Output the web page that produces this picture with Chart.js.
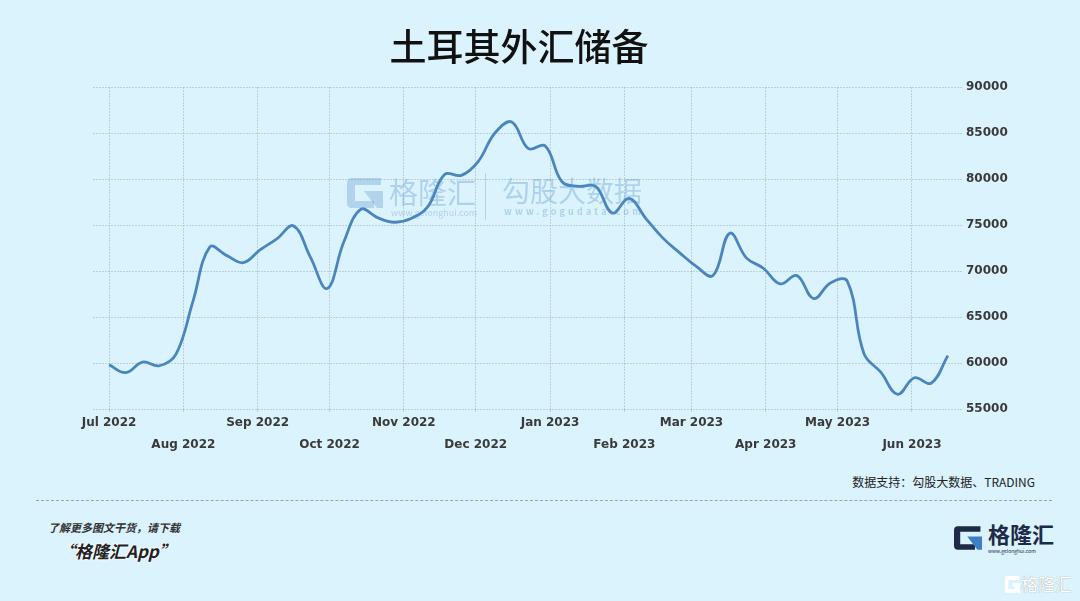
<!DOCTYPE html>
<html>
<head>
<meta charset="utf-8">
<script src="https://cdn.jsdelivr.net/npm/chart.js@4"></script>
<style>
  html, body { margin: 0; padding: 0; }
  body { width: 1080px; height: 601px; background: #dbf3fd; position: relative; overflow: hidden;
         font-family: "Noto Sans CJK SC", "DejaVu Sans", sans-serif; }
  #wrap { position: absolute; left: 0; top: 0; width: 1080px; height: 470px; }
  .abs { position: absolute; white-space: nowrap; }
  #title { left: 0; width: 1038px; top: 20px; text-align: center; font-size: 37px; font-weight: 500; color: #111; line-height: 50px; }
  .wm { color: rgba(80, 140, 200, 0.32); }
  #source { right: 45px; top: 473px; font-size: 12px; color: #222; }
  #dots { left: 36px; top: 500px; width: 1016px; border-top: 1px dashed #9aa4aa; }
  #more { left: 48px; top: 519px; font-size: 11px; font-style: italic; font-weight: bold; color: #333; }
  #app { left: 58px; top: 538px; font-size: 17px; font-style: italic; font-weight: bold; color: #222;
         text-shadow: 0 0 2px #fff, 0 0 2px #fff, 0 0 3px #fff; }
</style>
</head>
<body>
<div id="wrap"><canvas id="chart"></canvas></div>

<div id="title" class="abs">土耳其外汇储备</div>

<!-- watermark -->
<svg class="abs" style="left:347px;top:178px" width="36" height="30" viewBox="0 0 36 30">
  <path d="M34,0 H5 Q0,0 0,5 V25 Q0,30 5,30 H27 V23 H8 V7 H34 Z" fill="rgba(80,140,200,0.3)"/>
  <path d="M17,13 H36 V30 H30 Z" fill="rgba(80,140,200,0.3)"/>
</svg>
<div class="abs wm" style="left:389px;top:170px;font-size:29px;">格隆汇</div>
<div class="abs wm" style="left:391px;top:206px;font-size:9px;">www.gelonghui.com</div>
<div class="abs" style="left:485px;top:173px;width:1px;height:47px;background:rgba(80,140,200,0.3);"></div>
<div class="abs wm" style="left:502px;top:170px;font-size:28px;">勾股大数据</div>
<div class="abs wm" style="left:504px;top:205px;font-size:9px;font-weight:bold;letter-spacing:3.2px;">www.gogudata.com</div>

<div id="source" class="abs">数据支持：勾股大数据、TRADING</div>
<div id="dots" class="abs"></div>
<div id="more" class="abs">了解更多图文干货，请下载</div>
<div id="app" class="abs">“格隆汇App”</div>

<!-- logo bottom right -->
<svg class="abs" style="left:954px;top:523px" width="28" height="30" viewBox="0 0 36 30">
  <path d="M34,0 H5 Q0,0 0,5 V25 Q0,30 5,30 H27 V23 H8 V7 H34 Z" fill="#1d2a48"/>
  <path d="M17,13 H36 V30 H30 Z" fill="#3f7fc4"/>
</svg>
<div class="abs" style="left:988px;top:517px;font-size:22px;font-weight:bold;color:#1d2a48;">格隆汇</div>
<div class="abs" style="left:988px;top:547px;font-size:5px;color:#1d2a48;">www.gelonghui.com</div>
<svg class="abs" style="left:1005px;top:576px" width="15" height="17" viewBox="0 0 36 30" preserveAspectRatio="none">
  <path d="M34,0 H5 Q0,0 0,5 V25 Q0,30 5,30 H27 V23 H8 V7 H34 Z" fill="#fff"/>
  <path d="M17,13 H36 V30 H30 Z" fill="#fff"/>
</svg>
<div class="abs" style="left:1021px;top:571px;font-size:17px;color:#fff;text-shadow:0 0 1px #888;">格隆汇</div>

<script>
// weekly reserve observations (USD mn)
const dates = [
  '2022-07-01','2022-07-08','2022-07-15','2022-07-22','2022-07-29',
  '2022-08-05','2022-08-12','2022-08-19','2022-08-26',
  '2022-09-02','2022-09-09','2022-09-16','2022-09-23','2022-09-30',
  '2022-10-07','2022-10-14','2022-10-21','2022-10-28',
  '2022-11-04','2022-11-11','2022-11-18','2022-11-25',
  '2022-12-02','2022-12-09','2022-12-16','2022-12-23','2022-12-30',
  '2023-01-06','2023-01-13','2023-01-20','2023-01-27',
  '2023-02-03','2023-02-10','2023-02-17','2023-02-24',
  '2023-03-03','2023-03-10','2023-03-17','2023-03-24','2023-03-31',
  '2023-04-07','2023-04-14','2023-04-21','2023-04-28',
  '2023-05-05','2023-05-12','2023-05-19','2023-05-26',
  '2023-06-02','2023-06-09','2023-06-16'
];
const reserves = [
  59800, 58950, 60100, 59700, 61000,
  66700, 72600, 71700, 70900,
  72300, 73500, 74900, 71500, 68100,
  73200, 76700, 75800, 75300,
  75700, 77000, 80500, 80400,
  81900, 85000, 86200, 83300, 83600,
  79700, 79200, 79200, 76300,
  77900, 75700, 73600, 72000,
  70500, 69500, 74100, 71400, 70300,
  68600, 69500, 67000, 68700,
  68900, 61000, 59000, 56600,
  58400, 57800, 60800
];
const monthStarts = ['2022-07-01','2022-08-01','2022-09-01','2022-10-01','2022-11-01','2022-12-01',
                     '2023-01-01','2023-02-01','2023-03-01','2023-04-01','2023-05-01','2023-06-01'];
const monthLabels = ['Jul 2022','Aug 2022','Sep 2022','Oct 2022','Nov 2022','Dec 2022',
                     'Jan 2023','Feb 2023','Mar 2023','Apr 2023','May 2023','Jun 2023'];
const yTicks = [55000, 60000, 65000, 70000, 75000, 80000, 85000, 90000];

const DAY = 86400000;
const origin = Date.parse('2022-07-01');
const toDay = d => (Date.parse(d) - origin) / DAY;
const points = dates.map((d, i) => ({ x: toDay(d), y: reserves[i] }));
const monthDays = monthStarts.map(toDay);

const gridColor = 'rgba(140, 160, 175, 0.42)';

new Chart(document.getElementById('chart'), {
  type: 'line',
  data: {
    datasets: [{
      data: points,
      borderColor: '#4a86bd',
      borderWidth: 2.8,
      pointRadius: 0,
      tension: 0.4,
      fill: false
    }]
  },
  options: {
    responsive: true,
    maintainAspectRatio: false,
    animation: false,
    layout: { padding: { left: 93, right: 57, top: 87, bottom: 11 } },
    plugins: { legend: { display: false }, tooltip: { enabled: false } },
    scales: {
      x: {
        type: 'linear',
        min: -6.7,
        max: 356.3,
        afterBuildTicks: s => { s.ticks = monthDays.map(v => ({ value: v })); },
        afterFit: s => { s.height = 50; },
        border: { display: false, dash: [2, 1] },
        grid: { color: gridColor, tickLength: 3, drawTicks: true },
        ticks: {
          autoSkip: false,
          maxRotation: 0,
          padding: 0,
          color: '#3a3a3a',
          font: { family: 'DejaVu Sans', size: 12, weight: 'bold', lineHeight: 22 / 12 },
          callback: (v, i) => i % 2 === 0 ? monthLabels[i] : ['', monthLabels[i]]
        }
      },
      y: {
        position: 'right',
        min: 55000,
        max: 90000,
        afterBuildTicks: s => { s.ticks = yTicks.map(v => ({ value: v })); },
        afterFit: s => { s.width = 60; },
        border: { display: false, dash: [2, 1] },
        grid: { color: gridColor, drawTicks: false },
        ticks: {
          padding: 3,
          color: '#3a3a3a',
          font: { family: 'DejaVu Sans', size: 12, weight: 'bold' },
          callback: v => String(v)
        }
      }
    }
  }
});
</script>
</body>
</html>
